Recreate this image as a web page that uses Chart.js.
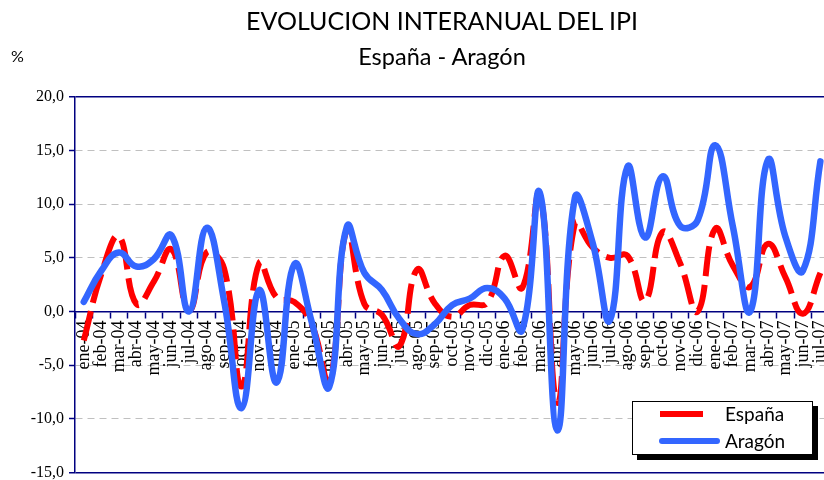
<!DOCTYPE html>
<html>
<head>
<meta charset="utf-8">
<script src="https://cdn.jsdelivr.net/npm/chart.js@4.4.1/dist/chart.umd.min.js"></script>
<style>
  html, body { margin: 0; padding: 0; background: #fff; }
  #wrap { position: relative; width: 824px; height: 480px; overflow: hidden; }
  #chart { position: absolute; left: 0; top: 0; }
  .txt { position: absolute; font-family: Lato, "Open Sans", sans-serif; color: #000; white-space: nowrap; }
  #title { left: 192px; width: 500px; top: 6px; text-align: center; font-size: 25px; line-height: 28px; }
  #subtitle { left: 192px; width: 500px; top: 42px; text-align: center; font-size: 23.5px; line-height: 28px; }
  #pct { left: 11px; top: 47px; font-size: 16px; line-height: 18px; }
  #legend { position: absolute; left: 632px; top: 401px; width: 179px; height: 52px;
            border: 1px solid #000; background: #fff; box-shadow: 5px 5px 0 #000; }
  .swatch { position: absolute; height: 6px; }
  .lab { position: absolute; left: 92px; font-family: Lato, "Open Sans", sans-serif; font-size: 19px; line-height: 20px; }
</style>
</head>
<body>
<div id="wrap">
  <canvas id="chart" width="845" height="487"></canvas>
  <div id="title" class="txt">EVOLUCION INTERANUAL DEL IPI</div>
  <div id="subtitle" class="txt">España - Aragón</div>
  <div id="pct" class="txt">%</div>
  <div id="legend">
    <div class="swatch" style="left:27px; top:9px; width:43px; background:#ff0000;"></div>
    <div class="lab" style="top:2px;">España</div>
    <div class="swatch" style="left:26px; top:36px; width:61px; background:#3366ff; border-radius:3px;"></div>
    <div class="lab" style="top:29px;">Aragón</div>
  </div>
</div>
<script>
// ============ Data ============

const months = [
    'ene-04', 'feb-04', 'mar-04', 'abr-04', 'may-04', 'jun-04', 'jul-04', 'ago-04', 'sep-04', 'oct-04', 'nov-04', 'dic-04',
    'ene-05', 'feb-05', 'mar-05', 'abr-05', 'may-05', 'jun-05', 'jul-05', 'ago-05', 'sep-05', 'oct-05', 'nov-05', 'dic-05',
    'ene-06', 'feb-06', 'mar-06', 'abr-06', 'may-06', 'jun-06', 'jul-06', 'ago-06', 'sep-06', 'oct-06', 'nov-06', 'dic-06',
    'ene-07', 'feb-07', 'mar-07', 'abr-07', 'may-07', 'jun-07', 'jul-07'
];

const espana = [
    -2.7, 3.5, 7.0, 0.7, 2.8, 5.8, 0.1, 5.5, 4.0, -7.0, 4.5, 1.3,
    0.9, -1.2, -6.5, 7.6, 0.7, -0.3, -3.2, 3.9, 0.8, -0.5, 0.6, 0.8,
    5.2, 2.2, 10.9, -8.5, 8.2, 6.0, 5.0, 5.2, 1.0, 7.4, 4.5, 0.0,
    7.7, 4.3, 2.3, 6.3, 3.2, -0.2, 3.6
];

const aragon = [
    0.9, 3.8, 5.5, 4.2, 4.9, 7.1, 0.0, 7.8, 1.0, -9.0, 2.0, -6.6,
    4.4, -1.0, -7.0, 7.9, 3.6, 2.0, -0.7, -2.1, -1.2, 0.6, 1.2, 2.2,
    1.2, -1.7, 11.1, -11.1, 10.6, 6.5, -0.8, 13.5, 6.9, 12.6, 8.0, 8.5,
    15.5, 8.0, 0.0, 14.1, 7.0, 3.8, 14.0
];

const yTicks = [-15, -10, -5, 0, 5, 10, 15, 20];

// ============ Styles ============

const NAVY = '#000080';
const GRID = '#c0c0c0';
const SERIF = '"Liberation Serif", "DejaVu Serif", serif';

// frame edges (top / bottom) solid navy, inner lines dashed gray
function isEdge(v) {
    return v === yTicks[0] || v === yTicks[yTicks.length - 1];
}

// ============ Chart ============

new Chart(document.getElementById('chart'), {
    type: 'line',
    data: {
        labels: months,
        datasets: [
            {
                label: 'España',
                data: espana,
                borderColor: '#ff0000',
                borderWidth: 6,
                borderDash: [30, 9],
                borderCapStyle: 'butt',
                tension: 0.45,
                pointRadius: 0,
                fill: false,
                order: 2
            },
            {
                label: 'Aragón',
                data: aragon,
                borderColor: '#3366ff',
                borderWidth: 6.5,
                borderCapStyle: 'round',
                borderJoinStyle: 'round',
                tension: 0.45,
                pointRadius: 0,
                fill: false,
                order: 1
            }
        ]
    },
    options: {
        responsive: false,
        animation: false,
        devicePixelRatio: 1,
        layout: { padding: { top: 97, bottom: 0, left: 0, right: 0 } },
        plugins: {
            legend: { display: false },
            tooltip: { enabled: false }
        },
        scales: {
            x: {
                type: 'category',
                offset: true,
                position: { y: 0 },
                border: { display: true, color: NAVY, width: 1.5 },
                grid: {
                    offset: true,
                    drawOnChartArea: false,
                    drawTicks: true,
                    tickLength: 6,
                    tickColor: NAVY,
                    tickWidth: 1.5
                },
                ticks: {
                    autoSkip: false,
                    minRotation: 90,
                    maxRotation: 90,
                    padding: 3,
                    color: '#000',
                    font: { family: SERIF, size: 18 }
                }
            },
            y: {
                min: -15,
                max: 20,
                afterFit: (scale) => { scale.width = 75; },
                afterBuildTicks: (scale) => { scale.ticks = yTicks.map(v => ({ value: v })); },
                border: {
                    display: true,
                    color: NAVY,
                    width: 1.5,
                    dash: (ctx) => (ctx.tick && !isEdge(ctx.tick.value) ? [7, 5] : [])
                },
                grid: {
                    color: (ctx) => {
                        if (!ctx.tick) return GRID;
                        if (ctx.tick.value === 0) return 'rgba(0,0,0,0)';
                        return isEdge(ctx.tick.value) ? NAVY : GRID;
                    },
                    lineWidth: (ctx) => (ctx.tick && isEdge(ctx.tick.value) ? 1.5 : 1),
                    tickColor: NAVY,
                    tickLength: 6,
                    tickWidth: 1.5,
                    tickBorderDash: []
                },
                ticks: {
                    padding: 5,
                    color: '#000',
                    font: { family: SERIF, size: 16 },
                    callback: (v) => v.toFixed(1).replace('.', ',')
                }
            }
        }
    }
});
</script>
</body>
</html>
